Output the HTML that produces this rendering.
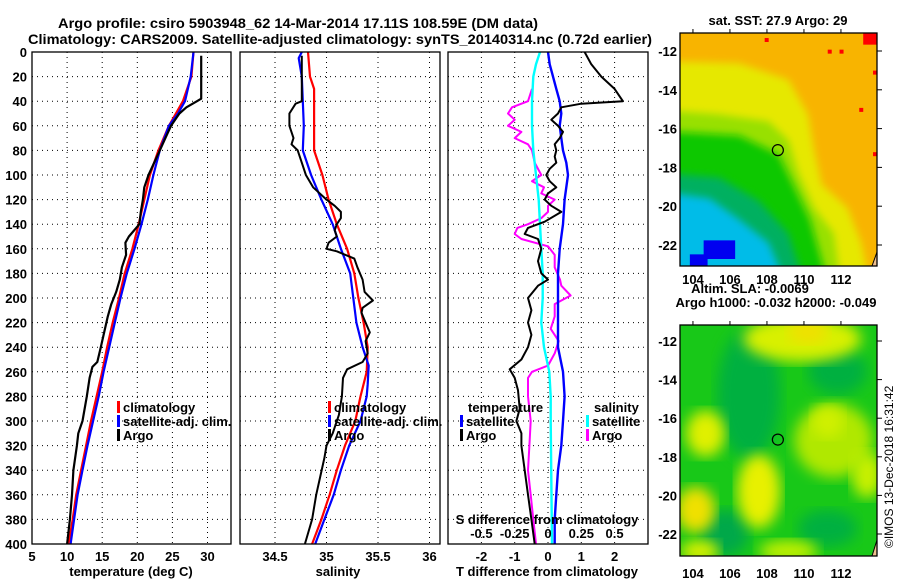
<!DOCTYPE html>
<html><head><meta charset="utf-8"><style>
html,body{margin:0;padding:0;background:#fff;}
svg{display:block;font-family:"Liberation Sans",sans-serif;font-weight:bold;}
</style></head><body>
<svg id="c" width="900" height="580" viewBox="0 0 900 580" xmlns="http://www.w3.org/2000/svg">
<defs>
<filter id="bl" x="-10%" y="-10%" width="120%" height="120%"><feGaussianBlur stdDeviation="4"/></filter>
<filter id="bl2" x="-10%" y="-10%" width="120%" height="120%"><feGaussianBlur stdDeviation="7"/></filter>
<clipPath id="cm1"><rect x="680" y="33" width="197" height="233"/></clipPath>
<clipPath id="cm2"><rect x="680" y="325" width="197" height="231"/></clipPath>
<clipPath id="cp1"><rect x="32" y="52" width="199" height="492"/></clipPath>
<clipPath id="cp2"><rect x="240" y="52" width="200" height="492"/></clipPath>
<clipPath id="cp3"><rect x="448" y="52" width="200" height="492"/></clipPath>
</defs>
<text x="298" y="28" text-anchor="middle" font-size="14" textLength="480" lengthAdjust="spacingAndGlyphs">Argo profile: csiro 5903948_62 14-Mar-2014 17.11S 108.59E (DM data)</text>
<text x="340" y="44" text-anchor="middle" font-size="14" textLength="624" lengthAdjust="spacingAndGlyphs">Climatology: CARS2009. Satellite-adjusted climatology: synTS_20140314.nc (0.72d earlier)</text>
<g id="plots"></g>
<g id="maps"></g>
<text transform="translate(893,548) rotate(-90)" font-size="12" font-weight="normal">©IMOS 13-Dec-2018 16:31:42</text>
</svg>
<script>
// ---------- DATA ----------
const depthTick = [0,20,40,60,80,100,120,140,160,180,200,220,240,260,280,300,320,340,360,380,400];
const tempTicks = [5,10,15,20,25,30];
const salTicks = [34.5,35,35.5,36];
const salTickLabels = ["34.5","35","35.5","36"];
const tdiffTicks = [-2,-1,0,1,2];
const sdiffTicks = [-0.5,-0.25,0,0.25,0.5];
const sdiffTickLabels = ["-0.5","-0.25","0","0.25","0.5"];

const tClimDepth = [0,20,40,50,60,80,100,120,140,160,180,200,220,240,260,280,300,320,340,360,380,400];
const tClim = [28,27.7,26.5,25.5,24.5,23,21.8,21,20.2,19.3,18.2,17.4,16.5,15.7,15,14.2,13.4,12.7,12,11.3,10.8,10.2];
const tSatDepth = [0,20,40,50,60,80,100,120,140,160,180,200,220,240,260,280,300,320,340,360,380,400];
const tSat = [28,27.6,26.8,25.8,24.5,23.2,22.3,21.5,20.6,19.6,18.5,17.6,16.8,16,15.2,14.5,13.7,12.9,12.2,11.5,11,10.5];
const tArgoDepth = [3,38,40,45,50,60,70,80,100,110,120,130,140,150,155,165,175,185,195,205,215,230,240,252,256,265,280,300,310,320,340,360,380,400];
const tArgo = [29.1,29.1,28.5,27,26,24.8,24,23.2,21.6,21.0,20.8,20.5,20.3,18.8,18.3,18.4,17.8,17.5,17,16.3,15.8,15.2,14.8,14.3,13.6,13.2,12.8,12.2,11.6,11.4,10.9,10.7,10.4,10.0];

const sClimDepth = [0,20,30,60,80,100,120,140,160,180,200,220,240,260,280,300,320,340,360,380,400];
const sClim = [34.82,34.84,34.88,34.88,34.88,34.96,35.02,35.1,35.2,35.27,35.31,35.36,35.4,35.39,35.33,35.28,35.18,35.1,35.03,34.95,34.86];
const sSatDepth = [0,5,20,40,60,80,100,120,140,160,180,200,220,240,255,270,280,300,320,340,360,380,400];
const sSat = [34.76,34.73,34.76,34.77,34.78,34.77,34.85,34.95,35.06,35.14,35.23,35.26,35.29,35.35,35.41,35.4,35.39,35.33,35.22,35.14,35.07,34.98,34.89];
const sArgoDepth = [3,40,42,50,60,70,75,80,90,100,110,120,125,130,135,140,145,150,155,160,162,168,175,185,195,202,208,212,220,228,235,245,252,258,265,280,295,310,320,330,345,360,380,400];
const sArgo = [34.76,34.76,34.7,34.64,34.64,34.68,34.66,34.72,34.76,34.8,34.87,35.0,35.08,35.14,35.14,35.1,35.08,35.1,35.02,35.0,35.1,35.27,35.3,35.35,35.37,35.45,35.35,35.34,35.38,35.42,35.38,35.4,35.35,35.2,35.16,35.15,35.12,35.06,35.0,34.98,34.94,34.9,34.86,34.79];

const dtSatDepth = [0,10,20,30,40,50,60,70,80,90,100,110,120,140,160,180,200,220,240,260,280,300,320,340,360,380,400];
const dtSat = [0,0.05,0.15,0.25,0.35,0.4,0.35,0.4,0.45,0.55,0.6,0.55,0.5,0.45,0.35,0.3,0.3,0.3,0.3,0.45,0.5,0.45,0.4,0.3,0.25,0.2,0.2];
const dtArgoDepth = [0,10,20,30,40,42,45,50,55,60,65,70,75,80,85,90,95,100,105,110,115,120,125,130,138,143,148,152,160,170,180,185,190,200,210,220,230,240,250,258,265,275,290,300,310,320,340,360,380,400];
const dtArgo = [1.1,1.3,1.6,2.0,2.25,1.0,0.4,0.3,0.1,0.3,0.45,0.35,0.2,0.25,0.2,0.25,0.05,-0.05,0.05,0.25,0.0,-0.1,0.1,0.4,-0.1,-0.6,-0.7,-0.3,-0.2,-0.3,-0.2,0.0,-0.3,-0.6,-0.5,-0.6,-0.5,-0.6,-0.8,-1.15,-1.0,-0.9,-0.85,-0.95,-0.8,-0.8,-0.7,-0.6,-0.5,-0.4];
const dsSatDepth = [0,10,20,40,60,80,100,120,140,160,180,200,220,240,260,280,300,400];
const dsSat = [-0.06,-0.09,-0.11,-0.12,-0.12,-0.11,-0.09,-0.07,-0.06,-0.05,-0.04,-0.04,-0.05,-0.03,0.01,0.02,0.02,0.03];
const dsArgoDepth = [30,40,45,50,55,60,65,70,75,80,90,100,105,110,115,120,125,130,135,140,143,148,152,158,165,175,185,190,198,205,215,225,235,245,255,260,265,280,300,320,340,360,380,400];
const dsArgo = [-0.12,-0.15,-0.27,-0.3,-0.25,-0.3,-0.2,-0.25,-0.15,-0.12,-0.1,-0.05,-0.12,-0.03,-0.05,0.05,0.0,0.0,-0.05,-0.15,-0.23,-0.25,-0.2,0.0,0.05,0.05,0.09,0.1,0.17,0.05,0.05,0.02,0.08,0.05,0.0,-0.12,-0.15,-0.15,-0.13,-0.14,-0.15,-0.13,-0.11,-0.09];

const mapLonTicks = [104,106,108,110,112];
const mapLatTicks = [-12,-14,-16,-18,-20,-22];
const argoLon = 108.59, argoLat = -17.11;

// ---------- HELPERS ----------
const NS="http://www.w3.org/2000/svg";
const plots=document.getElementById('plots');
const mapsG=document.getElementById('maps');
function mk(tag,attrs,parent){const e=document.createElementNS(NS,tag);for(const k in attrs)e.setAttribute(k,attrs[k]);(parent||plots).appendChild(e);return e;}
const Y0=52,Y1=544;
const yD=d=>Y0+d*(Y1-Y0)/400;
const xT=t=>32+(t-5)*7.02;
const xS=s=>275+(s-34.5)*103;
const xDT=t=>548+t*33.3;
const xDS=s=>548+s*133.2;

function panel(x0,x1,name){
  const g=mk('g',{});
  
  
  depthTick.forEach(d=>{
    const l=mk('line',{x1:x0,x2:x1,y1:yD(d),y2:yD(d),stroke:'#000','stroke-width':1,'stroke-dasharray':'1,4'},g);
    
    
  });
  return g;
}
function vgrid(g,xs){xs.forEach(x=>{
  const l=mk('line',{x1:x,x2:x,y1:Y0,y2:Y1,stroke:'#000','stroke-width':1,'stroke-dasharray':'1,4'},g);
  
  
});}
function frame(g,x0,x1){
  const r=mk('rect',{x:x0,y:Y0,width:x1-x0,height:Y1-Y0,fill:'none',stroke:'#000','stroke-width':1.3},g);
  
  
}
function line(g,ds,vs,fx,color,w,clip,name){
  const pts=ds.map((d,i)=>fx(vs[i]).toFixed(1)+','+yD(d).toFixed(1)).join(' ');
  const p=mk('polyline',{points:pts,fill:'none',stroke:color,'stroke-width':w,'clip-path':'url(#'+clip+')','stroke-linejoin':'round'},g);
  
  
}
function txt(g,x,y,s,anchor,size,name,fill){
  const t=mk('text',{x:x,y:y,'text-anchor':anchor||'middle','font-size':size||13,fill:fill||'#000'},g);
  t.textContent=s;
  
  
  return t;
}
function legend(g,x,y,color,label,name){
  const m=mk('rect',{x:x,y:y-6,width:3,height:12,fill:color},g);
  
  
  txt(g,x+6,y+5,label,'start',13,name+'-label');
}

// depth axis labels
const dAx=mk('g',{});


depthTick.forEach(d=>txt(dAx,27,yD(d)+5,String(d),'end',13,'depth-tick-label'));

// Panel 1: temperature
let g1=panel(32,231,'temperature-panel');
vgrid(g1,tempTicks.slice(1).map(xT));
line(g1,tClimDepth,tClim,xT,'#f00',2.2,'cp1','temp-climatology-line');
line(g1,tSatDepth,tSat,xT,'#00f',2.2,'cp1','temp-satellite-line');
line(g1,tArgoDepth,tArgo,xT,'#000',2.2,'cp1','temp-argo-line');
frame(g1,32,231);
tempTicks.forEach(t=>txt(g1,xT(t),561,String(t),'middle',13,'temp-tick-label'));
txt(g1,131,576,'temperature (deg C)','middle',13,'temp-axis-title');
legend(g1,117,407,'#f00','climatology','temp-legend-climatology');
legend(g1,117,421,'#00f','satellite-adj. clim.','temp-legend-satellite');
legend(g1,117,435,'#000','Argo','temp-legend-argo');

// Panel 2: salinity
let g2=panel(240,440,'salinity-panel');
vgrid(g2,salTicks.map(xS));
line(g2,sClimDepth,sClim,xS,'#f00',2.2,'cp2','sal-climatology-line');
line(g2,sSatDepth,sSat,xS,'#00f',2.2,'cp2','sal-satellite-line');
line(g2,sArgoDepth,sArgo,xS,'#000',2,'cp2','sal-argo-line');
frame(g2,240,440);
salTicks.forEach((s,i)=>txt(g2,xS(s),561,salTickLabels[i],'middle',13,'sal-tick-label'));
txt(g2,338,576,'salinity','middle',13,'sal-axis-title');
legend(g2,328,407,'#f00','climatology','sal-legend-climatology');
legend(g2,328,421,'#00f','satellite-adj. clim.','sal-legend-satellite');
legend(g2,328,435,'#000','Argo','sal-legend-argo');

// Panel 3: differences
let g3=panel(448,648,'difference-panel');
vgrid(g3,tdiffTicks.map(xDT));
line(g3,dsArgoDepth,dsArgo,xDS,'#f0f',2,'cp3','sdiff-argo-line');
line(g3,dtSatDepth,dtSat,xDT,'#00f',2.4,'cp3','tdiff-satellite-line');
line(g3,dsSatDepth,dsSat,xDS,'#0ff',2.4,'cp3','sdiff-satellite-line');
line(g3,dtArgoDepth,dtArgo,xDT,'#000',2,'cp3','tdiff-argo-line');
frame(g3,448,648);
tdiffTicks.forEach(t=>txt(g3,xDT(t),561,String(t),'middle',13,'tdiff-tick-label'));
txt(g3,547,576,'T difference from climatology','middle',13,'tdiff-axis-title');
txt(g3,547,524,'S difference from climatology','middle',13,'sdiff-axis-title');
sdiffTicks.forEach((s,i)=>txt(g3,xDS(s),538,sdiffTickLabels[i],'middle',13,'sdiff-tick-label'));
txt(g3,468,412,'temperature','start',13,'legend-temperature-header');
legend(g3,460,421,'#00f','satellite','tdiff-legend-satellite');
legend(g3,460,435,'#000','Argo','tdiff-legend-argo');
txt(g3,594,412,'salinity','start',13,'legend-salinity-header');
legend(g3,586,421,'#0ff','satellite','sdiff-legend-satellite');
legend(g3,586,435,'#f0f','Argo','sdiff-legend-argo');

// ---------- MAPS ----------
function mapFrame(y0,y1,lat12,lat22,clip,name,title){
  const g=mk('g',{},mapsG);
  
  
  const W=197,H=y1-y0;
  const inner=mk('g',{'clip-path':'url(#'+clip+')'},g);
  const fx=f=>680+f*W, fy=f=>y0+f*H;
  return {g,inner,fx,fy,W,H,lonX:lon=>680+(lon-103.3)*18.5,latY:lat=>lat12+(-12-lat)*(lat22-lat12)/10,y0,y1};
}
function poly(parent,pts,m,color,filt){
  const p=mk('polygon',{points:pts.map(q=>m.fx(q[0]).toFixed(1)+','+m.fy(q[1]).toFixed(1)).join(' '),fill:color,filter:filt||'url(#bl)'},parent);
  return p;
}
function mapAxes(m,labelsBottomY,topTicks){
  const g=m.g;
  const r=mk('rect',{x:680,y:m.y0,width:197,height:m.y1-m.y0,fill:'none',stroke:'#000','stroke-width':1.3},g);
  
  
  mapLatTicks.forEach(l=>{
    const y=m.latY(l);
    mk('line',{x1:877,x2:882,y1:y,y2:y,stroke:'#000'},g);
    txt(g,677,y+5,String(l),'end',13,'map-lat-label');
  });
  mapLonTicks.forEach(l=>{
    const x=m.lonX(l);
    mk('line',{x1:x,x2:x,y1:m.y0-4,y2:m.y0,stroke:'#000'},g);
    txt(g,x,labelsBottomY,String(l),'middle',13,'map-lon-label');
  });
  const c=mk('circle',{cx:m.lonX(argoLon),cy:m.latY(argoLat),r:5.5,fill:'none',stroke:'#000','stroke-width':1.2},g);
  
  
}

// SST map
const m1=mapFrame(33,266,51,245,'cm1','sst-map');
mk('rect',{x:670,y:20,width:220,height:260,fill:'#f8b400'},m1.inner);
poly(m1.inner,[[-0.1,0.12],[0.3,0.13],[0.55,0.2],[0.65,0.35],[0.68,0.5],[0.72,0.65],[0.85,0.75],[0.92,0.9],[0.97,1.1],[-0.1,1.1]],m1,'#e6e800');
poly(m1.inner,[[-0.1,0.33],[0.2,0.35],[0.45,0.38],[0.55,0.46],[0.6,0.6],[0.68,0.75],[0.78,0.86],[0.82,1.1],[-0.1,1.1]],m1,'#98e000');
poly(m1.inner,[[-0.1,0.42],[0.3,0.44],[0.5,0.52],[0.58,0.66],[0.66,0.8],[0.76,1.1],[-0.1,1.1]],m1,'#10c800');
poly(m1.inner,[[-0.1,0.6],[0.2,0.62],[0.4,0.72],[0.55,0.86],[0.64,1.1],[-0.1,1.1]],m1,'#00b060');
poly(m1.inner,[[-0.1,0.68],[0.15,0.71],[0.3,0.8],[0.45,0.9],[0.55,1.1],[-0.1,1.1]],m1,'#00bce8');
mk('rect',{x:m1.fx(0.12),y:m1.fy(0.89),width:0.16*197,height:0.08*233,fill:'#0000f0'},m1.inner);
mk('rect',{x:m1.fx(0.05),y:m1.fy(0.95),width:0.09*197,height:0.06*233,fill:'#0000f0'},m1.inner);
mk('rect',{x:m1.fx(0.93),y:m1.fy(0),width:0.07*197,height:0.05*233,fill:'#f00'},m1.inner);
[[0.44,0.03],[0.82,0.08],[0.99,0.17],[0.92,0.33],[0.99,0.52],[0.76,0.08]].forEach(p=>mk('rect',{x:m1.fx(p[0])-2,y:m1.fy(p[1])-2,width:4,height:4,fill:'#f00'},m1.inner));
mk('polygon',{points:'872,266 877,252 877,266',fill:'#f0c090',stroke:'#000'},m1.inner);
mapAxes(m1,284);
txt(m1.g,778,25,'sat. SST: 27.9 Argo: 29','middle',13,'sst-map-title');

// SLA map
const m2=mapFrame(325,556,341,534,'cm2','sla-map');
mk('rect',{x:670,y:315,width:220,height:250,fill:'#18c818'},m2.inner);
function blob(cx,cy,rx,ry,col){mk('ellipse',{cx:m2.fx(cx),cy:m2.fy(cy),rx:rx*197,ry:ry*231,fill:col,filter:'url(#bl2)'},m2.inner);}
blob(0.35,0.3,0.16,0.28,'#00b040');
blob(0.8,0.2,0.15,0.1,'#00b040');
blob(0.23,0.9,0.12,0.1,'#00a848');
blob(0.75,0.88,0.15,0.08,'#00b040');
blob(0.62,0.06,0.3,0.1,'#d8f000');
blob(0.65,0.03,0.1,0.05,'#f0e000');
blob(0.78,0.5,0.2,0.16,'#b0e800');
blob(0.75,0.42,0.08,0.07,'#d0f000');
blob(0.13,0.47,0.1,0.1,'#e0f000');
blob(0.4,0.72,0.11,0.16,'#e8f000');
blob(0.08,0.8,0.1,0.1,'#f0e000');
blob(0.1,0.98,0.1,0.05,'#d8f000');
blob(0.55,0.98,0.15,0.05,'#c0f000');
blob(0.95,0.65,0.08,0.1,'#c8f000');
mk('polygon',{points:'872,556 877,540 877,556',fill:'#f0c090',stroke:'#000'},m2.inner);
mapAxes(m2,578);
txt(m2.g,750,293,'Altim. SLA: -0.0069','middle',13,'sla-map-title');
txt(m2.g,776,307,'Argo h1000: -0.032 h2000: -0.049','middle',13,'sla-map-subtitle');
</script>
</body></html>
